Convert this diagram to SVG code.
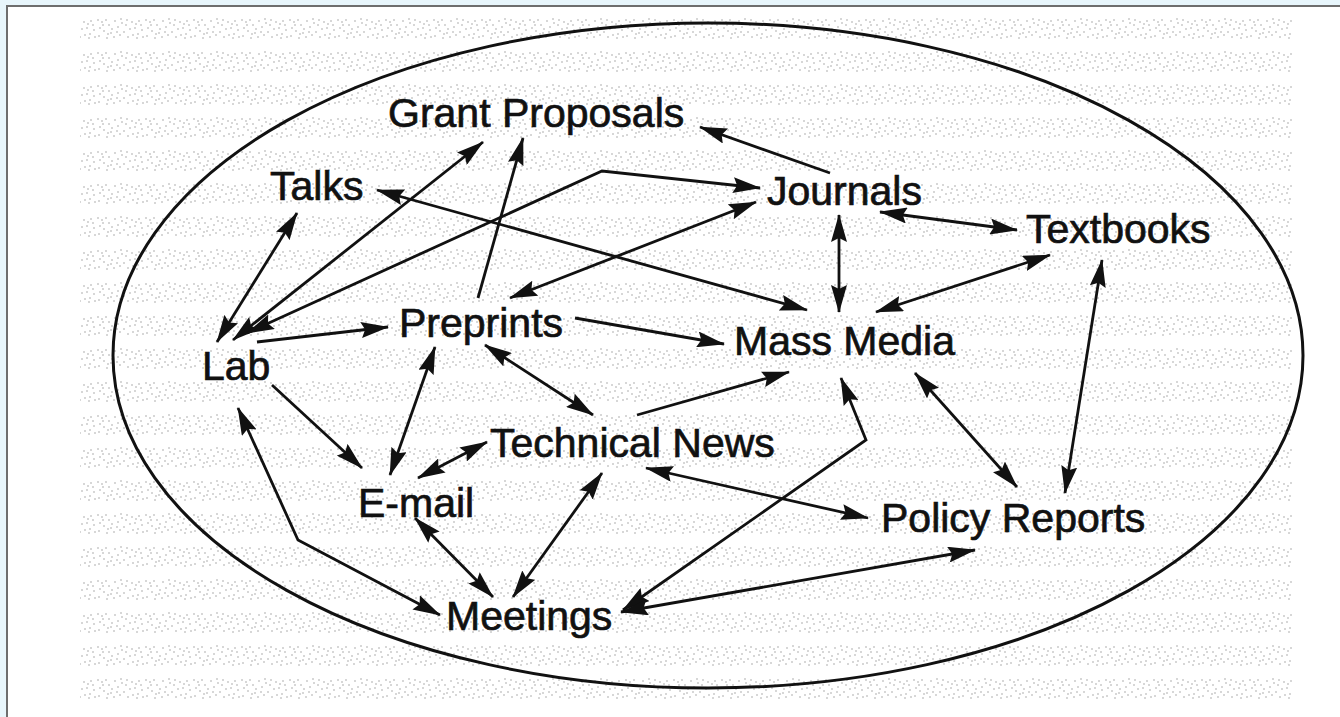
<svg xmlns="http://www.w3.org/2000/svg" width="1340" height="717" viewBox="0 0 1340 717">
  <style>
    .lbl { font-family: "Liberation Sans", Arial, Helvetica, sans-serif; font-size: 41px; fill: #111; stroke: #111; stroke-width: 0.7; }
    .c { fill: none; stroke: #111; stroke-width: 2.8; stroke-linejoin: miter; }
    .d { marker-start: url(#ah); marker-end: url(#ah); }
    .s { marker-end: url(#ah); }
  </style>
  <defs>
    <marker id="ah" viewBox="0 0 28 16" refX="27" refY="8" markerWidth="28" markerHeight="16" markerUnits="userSpaceOnUse" orient="auto-start-reverse">
      <path d="M0,0 L28,8 L0,16 L4,8 z" fill="#111"/>
    </marker>
    <pattern id="speck" x="0" y="12" width="48" height="33" patternUnits="userSpaceOnUse">
      <g fill="#c6c6c6">
        <rect x="1" y="7" width="2" height="2"/><rect x="5" y="9" width="2" height="2"/><rect x="9" y="7" width="2" height="2"/>
        <rect x="12" y="12" width="2" height="2"/><rect x="3" y="15" width="2" height="2"/><rect x="7" y="18" width="2" height="2"/>
        <rect x="14" y="20" width="2" height="2"/><rect x="18" y="8" width="2" height="2"/><rect x="21" y="14" width="2" height="2"/>
        <rect x="25" y="10" width="2" height="2"/><rect x="27" y="19" width="2" height="2"/><rect x="30" y="7" width="2" height="2"/>
        <rect x="33" y="16" width="2" height="2"/><rect x="36" y="22" width="2" height="2"/><rect x="39" y="11" width="2" height="2"/>
        <rect x="42" y="8" width="2" height="2"/><rect x="45" y="17" width="2" height="2"/><rect x="2" y="23" width="2" height="2"/>
        <rect x="10" y="25" width="2" height="2"/><rect x="17" y="24" width="2" height="2"/><rect x="23" y="22" width="2" height="2"/>
        <rect x="29" y="12" width="2" height="2"/><rect x="35" y="9" width="2" height="2"/><rect x="41" y="21" width="2" height="2"/>
        <rect x="46" y="24" width="2" height="2"/><rect x="6" y="12" width="2" height="2"/><rect x="15" y="16" width="2" height="2"/>
        <rect x="20" y="19" width="2" height="2"/><rect x="31" y="24" width="2" height="2"/><rect x="38" y="15" width="2" height="2"/>
        <rect x="44" y="12" width="2" height="2"/><rect x="11" y="21" width="2" height="2"/><rect x="24" y="6" width="2" height="2"/>
        <rect x="40" y="25" width="2" height="2"/>
      </g>
    </pattern>
  </defs>

  <!-- frame -->
  <rect x="0" y="0" width="1340" height="717" fill="#e8f6fc"/>
  <rect x="7" y="6" width="1340" height="720" fill="#ffffff" stroke="#6e6e6e" stroke-width="2"/>
  <!-- scanned paper texture -->
  <rect x="80" y="14" width="1212" height="690" fill="url(#speck)" opacity="0.7"/>

  <!-- boundary ellipse -->
  <ellipse id="boundary" cx="708" cy="355.5" rx="595" ry="332.5" fill="none" stroke="#111" stroke-width="3"/>

  <g id="connectors">
    <path class="c d" d="M297,213 L217,342"/>
    <path class="c d" d="M483,142 L233,340"/>
    <path class="c d" d="M247,333 L602,171 L760,188"/>
    <path class="c s" d="M830,173 L700,127"/>
    <path class="c d" d="M510,298 L756,202"/>
    <path class="c d" d="M377,190 L807,310"/>
    <path class="c s" d="M478,298 L523,138"/>
    <path class="c s" d="M257,342 L388,327"/>
    <path class="c s" d="M575,318 L724,344"/>
    <path class="c d" d="M839,215 L839,312"/>
    <path class="c d" d="M880,212 L1017,230"/>
    <path class="c d" d="M1050,255 L876,312"/>
    <path class="c d" d="M1102,260 L1065,493"/>
    <path class="c d" d="M915,373 L1017,487"/>
    <path class="c s" d="M637,415 L789,372"/>
    <path class="c s" d="M272,385 L362,468"/>
    <path class="c d" d="M435,347 L390,475"/>
    <path class="c d" d="M485,345 L593,415"/>
    <path class="c d" d="M487,442 L418,478"/>
    <path class="c d" d="M238,408 L298,540 L440,615"/>
    <path class="c d" d="M415,518 L493,597"/>
    <path class="c d" d="M602,473 L513,597"/>
    <path class="c d" d="M646,468 L868,518"/>
    <path class="c d" d="M841,378 L866,440 L623,610"/>
    <path class="c d" d="M621,612 L975,550"/>
  </g>

  <g id="grant-proposals"><text class="lbl" x="388" y="127">Grant Proposals</text></g>
  <g id="talks"><text class="lbl" x="270" y="200">Talks</text></g>
  <g id="journals"><text class="lbl" x="767" y="205">Journals</text></g>
  <g id="textbooks"><text class="lbl" x="1026" y="243">Textbooks</text></g>
  <g id="preprints"><text class="lbl" x="399" y="337">Preprints</text></g>
  <g id="mass-media"><text class="lbl" x="734" y="355">Mass Media</text></g>
  <g id="lab"><text class="lbl" x="202" y="380">Lab</text></g>
  <g id="technical-news"><text class="lbl" x="490" y="457">Technical News</text></g>
  <g id="e-mail"><text class="lbl" x="358" y="517">E-mail</text></g>
  <g id="policy-reports"><text class="lbl" x="881" y="532">Policy Reports</text></g>
  <g id="meetings"><text class="lbl" x="446" y="630">Meetings</text></g>
</svg>
